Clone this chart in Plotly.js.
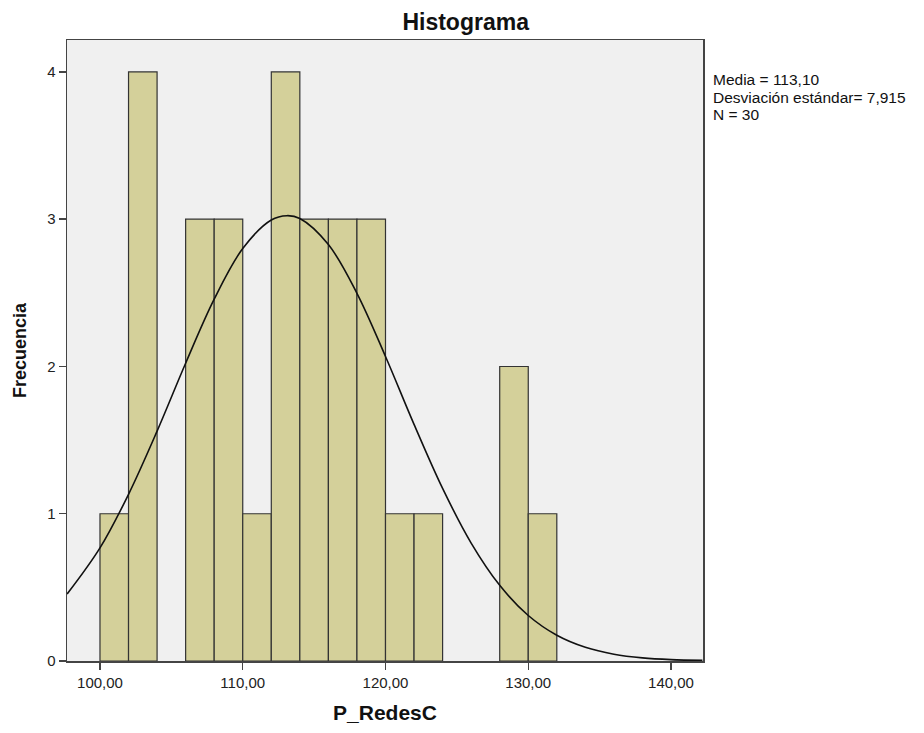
<!DOCTYPE html>
<html>
<head>
<meta charset="utf-8">
<script src="https://cdn.plot.ly/plotly-3.0.1.min.js"></script>
<style>html,body{margin:0;padding:0;background:#fff;}#chart{width:924px;height:733px;}</style>
</head>
<body>
<div id="chart"></div>
<script>
// Histogram bins (lower edges, width 2) and frequencies
var binStarts = [100, 102, 104, 106, 108, 110, 112, 114, 116, 118, 120, 122, 124, 126, 128, 130];
var counts    = [1,   4,   0,   3,   3,   1,   4,   3,   3,   3,   1,   1,   0,   0,   2,   1];
var binWidth = 2;

// Normal curve points
var curveX = [97.7, 100, 102, 104, 106, 108, 110, 112, 113.1, 114, 116, 118, 120, 122, 124, 126, 128, 130, 132, 134, 136, 138, 140, 142.2];
var curveY = [0.455, 0.768, 1.132, 1.561, 2.022, 2.457, 2.801, 2.995, 3.024, 3.005, 2.828, 2.497, 2.068, 1.607, 1.172, 0.801, 0.514, 0.309, 0.175, 0.093, 0.046, 0.021, 0.009, 0.004];

var statsLines = ["Media = 113,10", "Desviación estándar= 7,915", "N = 30"];

var bx = [], by = [];
for (var i = 0; i < binStarts.length; i++) {
  if (counts[i] > 0) { bx.push(binStarts[i] + binWidth / 2); by.push(counts[i]); }
}

var traces = [
  {
    type: 'bar', x: bx, y: by, width: binWidth,
    marker: {color: '#d4d09a', line: {color: '#333333', width: 1.2}},
    hoverinfo: 'x+y', showlegend: false
  },
  {
    type: 'scatter', mode: 'lines', x: curveX, y: curveY,
    line: {color: '#111111', width: 1.6, shape: 'spline'},
    showlegend: false, hoverinfo: 'skip'
  }
];

var statY = [0.9356, 0.9082, 0.8808];
var annotations = statsLines.map(function (t, k) {
  return {
    xref: 'paper', yref: 'paper', x: 1.013, y: statY[k], xanchor: 'left', yanchor: 'middle', align: 'left',
    text: t, showarrow: false, font: {size: 15.5, color: '#111'}
  };
});

var layout = {
  width: 924, height: 733,
  margin: {l: 67, r: 221, t: 40, b: 72},
  paper_bgcolor: '#ffffff',
  plot_bgcolor: '#f0f0f0',
  separators: ', ',
  font: {family: 'Liberation Sans, Arial, sans-serif', size: 15, color: '#222'},
  title: {text: '<b>Histograma</b>', x: 0.504, xref: 'container', xanchor: 'center', y: 0.97, yref: 'container', yanchor: 'middle', font: {size: 23, color: '#111'}},
  xaxis: {
    range: [97.69, 142.24], tickvals: [100, 110, 120, 130, 140], tickformat: '.2f',
    showgrid: false, zeroline: false, showline: true, mirror: true, linecolor: '#444', linewidth: 1.5,
    ticks: 'outside', ticklen: 7, tickwidth: 1.5, tickcolor: '#444',
    tickfont: {size: 15, color: '#222'},
    title: {text: '<b>P_RedesC</b>', font: {size: 21, color: '#111'}, standoff: 16}
  },
  yaxis: {
    range: [0, 4.217], tickvals: [0, 1, 2, 3, 4], tickformat: 'd',
    showgrid: false, zeroline: false, showline: true, mirror: true, linecolor: '#444', linewidth: 1.5,
    ticks: 'outside', ticklen: 7, tickwidth: 1.5, tickcolor: '#444',
    tickfont: {size: 15, color: '#222'},
    title: {text: '<b>Frecuencia</b>', font: {size: 18, color: '#111'}, standoff: 16}
  },
  annotations: annotations,
  bargap: 0
};

Plotly.newPlot('chart', traces, layout, {displayModeBar: false, staticPlot: true});
</script>
</body>
</html>
